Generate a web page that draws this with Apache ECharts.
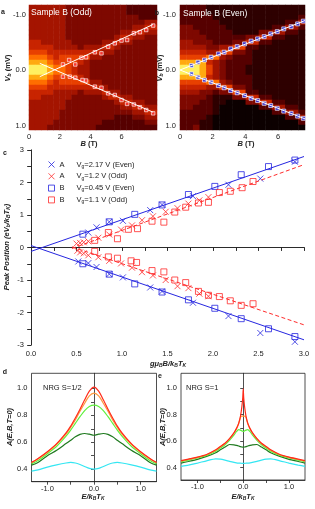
<!DOCTYPE html>
<html><head><meta charset="utf-8">
<script src="https://cdn.jsdelivr.net/npm/echarts@6/dist/echarts.min.js"></script>
<style>html,body{margin:0;padding:0;background:#fff}#c{width:315px;height:509px}</style>
</head><body><div id="c"></div>
<script>
// ---------- Panel a (Sample B, Odd) ----------
const aPtsUpB = [2.2,2.6,3.0,3.4,3.7,4.27,4.7,5.13,5.56,6.0,6.36,6.8,7.19,7.6,8.05];
const aPtsUpV = [-0.1,-0.18,-0.1,-0.22,-0.23,-0.32,-0.3,-0.42,-0.48,-0.53,-0.54,-0.66,-0.68,-0.72,-0.8];
const aPtsLoB = [2.2,2.65,3.0,3.47,3.7,4.27,4.7,5.13,5.56,6.0,6.36,6.8,7.19,7.6,8.05];
const aPtsLoV = [0.12,0.12,0.14,0.18,0.19,0.30,0.32,0.42,0.45,0.54,0.61,0.62,0.67,0.72,0.78];
const aFitB = [0.7, 8.05];
const aFitUpV = [0.12, -0.82];
const aFitLoV = [-0.12, 0.76];
// intensity levels 0..9, rows top (V=-1.17) to bottom (V=1.08), columns B=0..8.3
const aHeat = [
"444444333333333322222",
"444444333333333322222",
"444444333333333333222",
"444444333333333333344",
"444444333333333334455",
"444444333333333445544",
"444444333333334554433",
"554444433333445443333",
"555544443444554333333",
"666555555555443333333",
"777656666644333333333",
"888766665433333333333",
"999877654433333333333",
"999877654433333333333",
"888766665433333333333",
"777656666644333333333",
"666555555555433333333",
"555544443444544333333",
"554444433333455443333",
"444444333333334554433",
"444444333333333445544",
"444443333333333334455",
"444443333333332223344",
"444433333333222222233",
"444333333332222222222"];

// ---------- Panel b (Sample B, Even) ----------
const bPtsB = [0.7,1.1,1.5,1.9,2.35,2.7,3.1,3.5,3.95,4.35,4.75,5.15,5.55,5.95,6.35,6.8,7.2,7.55];
const bPtsUpV = [-0.08,-0.14,-0.18,-0.23,-0.29,-0.32,-0.38,-0.42,-0.47,-0.52,-0.56,-0.60,-0.65,-0.69,-0.74,-0.78,-0.83,-0.88];
const bPtsLoV = [0.07,0.13,0.18,0.22,0.28,0.32,0.37,0.41,0.46,0.51,0.55,0.60,0.64,0.69,0.74,0.78,0.83,0.87];
const bFitB = [0, 7.65];
const bFitUpV = [0, -0.89];
const bFitLoV = [0, 0.88];
const bHeat = [
"2222111111111111111",
"2222111111111111111",
"2222211111111111112",
"2222221111111111224",
"3322222111111122442",
"3332222211113344221",
"3333222222335522111",
"4433322233552211111",
"4444334466221111111",
"5555446633211111111",
"6666774322211111111",
"8888543222211111111",
"9998643222111111111",
"9998643222111111111",
"8888543222211111111",
"6666774322211111111",
"5555446633211111111",
"4443323366221111111",
"3333211133552211111",
"3332211000335522111",
"3322210000002244221",
"2222210000000022442",
"2222100000000000224",
"2221100000000000002",
"2231100000000000000"];

// ---------- Panel c ----------
const cA_even = [[0.63,0.46],[0.72,0.62],[0.86,0.79],[1.01,0.82],[1.31,1.15],[1.44,1.32],[1.78,1.58],[2.17,1.93],[2.52,2.12],[2.90,2.64],
 [0.52,-0.43],[0.63,-0.48],[0.72,-0.60],[0.86,-0.82],[1.01,-0.92],[1.31,-1.23],[1.44,-1.35],[1.78,-1.70],[2.17,-2.11],[2.52,-2.63],[2.90,-2.90]];
const cA_odd = [[0.50,0.12],[0.54,0.14],[0.58,0.16],[0.63,0.19],[0.74,0.30],[0.86,0.40],[0.99,0.55],[1.11,0.68],[1.22,0.84],[1.34,0.96],[1.48,1.10],[1.61,1.21],[1.73,1.35],[1.85,1.45],[1.95,1.55],
 [0.51,-0.10],[0.54,-0.15],[0.58,-0.18],[0.63,-0.24],[0.74,-0.30],[0.86,-0.41],[0.99,-0.49],[1.11,-0.62],[1.22,-0.76],[1.34,-0.86],[1.48,-1.0],[1.61,-1.19],[1.73,-1.25],[1.85,-1.42],[1.95,-1.50]];
const cB_even = [[0.57,0.41],[0.86,0.79],[1.14,1.02],[1.44,1.31],[1.73,1.63],[2.02,1.88],[2.31,2.24],[2.61,2.49],[2.90,2.69],
 [0.57,-0.50],[0.86,-0.82],[1.14,-1.12],[1.44,-1.37],[1.73,-1.61],[2.02,-1.87],[2.31,-2.19],[2.61,-2.50],[2.90,-2.74]];
const cB_odd = [[0.70,0.22],[0.85,0.46],[0.95,0.27],[1.07,0.56],[1.17,0.58],[1.33,0.81],[1.46,0.78],[1.58,1.09],[1.70,1.24],[1.84,1.37],[1.95,1.39],[2.07,1.69],[2.19,1.73],[2.32,1.84],[2.44,2.03],
 [0.70,-0.12],[0.85,-0.29],[0.95,-0.33],[1.10,-0.41],[1.16,-0.46],[1.33,-0.71],[1.46,-0.75],[1.58,-1.0],[1.70,-1.08],[1.84,-1.35],[1.95,-1.47],[2.07,-1.51],[2.19,-1.64],[2.31,-1.78],[2.44,-1.73]];
const cFitEvenUp = [[0,-0.12],[3,2.80]];
const cFitEvenLo = [[0,0.06],[3,-2.84]];
const cFitOddUp = [[0.45,-0.03],[3,2.55]];
const cFitOddLo = [[0.45,0.02],[3,-2.38]];
const legendKeys = ['A_even','A_odd','B_even','B_odd'];
const legendSample = ['A','A','B','B'];
const legendVg = ['2.17','1.2','0.45','1.1'];
const legendParity = ['Even','Odd','Even','Odd'];

// ---------- Panel d (NRG S=1/2) ----------
const dE = [-1.34,-1.2,-1.0,-0.8,-0.6,-0.5,-0.4,-0.3,-0.2,-0.1,0,0.1,0.2,0.3,0.4,0.5,0.6,0.8,1.0,1.2,1.34];
const dRed    = [0.45,0.48,0.53,0.59,0.67,0.72,0.78,0.845,0.915,0.98,1.01,0.98,0.915,0.845,0.78,0.72,0.67,0.59,0.53,0.48,0.45];
const dOrange = [0.45,0.475,0.525,0.585,0.66,0.71,0.765,0.83,0.89,0.945,0.965,0.945,0.89,0.83,0.765,0.71,0.66,0.585,0.525,0.475,0.45];
const dLight  = [0.44,0.465,0.515,0.57,0.645,0.69,0.74,0.79,0.835,0.865,0.875,0.865,0.835,0.79,0.74,0.69,0.645,0.57,0.515,0.465,0.44];
const dDark   = [0.43,0.45,0.50,0.54,0.59,0.615,0.64,0.658,0.665,0.66,0.652,0.66,0.665,0.658,0.64,0.615,0.59,0.54,0.50,0.45,0.43];
const dCyan   = [0.385,0.395,0.415,0.432,0.446,0.45,0.446,0.435,0.42,0.406,0.40,0.406,0.42,0.435,0.446,0.45,0.446,0.432,0.415,0.395,0.385];

// ---------- Panel e (NRG S=1) ----------
const eE = [-1.36,-1.2,-1.0,-0.8,-0.6,-0.5,-0.4,-0.3,-0.2,-0.15,-0.1,-0.06,-0.03,-0.01,0,0.01,0.03,0.06,0.1,0.15,0.2,0.3,0.4,0.5,0.6,0.8,1.0,1.2,1.35];
const eRed    = [0.453,0.465,0.48,0.50,0.535,0.56,0.585,0.62,0.665,0.695,0.735,0.79,0.86,0.93,0.995,0.93,0.86,0.79,0.735,0.695,0.665,0.62,0.585,0.56,0.535,0.50,0.48,0.465,0.453];
const eOrange = [0.45,0.462,0.478,0.498,0.532,0.557,0.582,0.617,0.662,0.692,0.732,0.78,0.79,0.79,0.79,0.79,0.79,0.78,0.732,0.692,0.662,0.617,0.582,0.557,0.532,0.498,0.478,0.462,0.45];
const eLight  = [0.445,0.457,0.473,0.493,0.525,0.548,0.573,0.607,0.648,0.672,0.688,0.684,0.678,0.675,0.674,0.675,0.678,0.684,0.688,0.672,0.648,0.607,0.573,0.548,0.525,0.493,0.473,0.457,0.445];
const eDark   = [0.435,0.447,0.463,0.485,0.513,0.535,0.556,0.575,0.573,0.569,0.564,0.559,0.556,0.555,0.555,0.555,0.556,0.559,0.564,0.569,0.573,0.575,0.556,0.535,0.513,0.485,0.463,0.447,0.435];
const eCyan   = [0.41,0.42,0.435,0.452,0.466,0.464,0.457,0.448,0.44,0.437,0.435,0.434,0.433,0.433,0.433,0.433,0.433,0.434,0.435,0.437,0.44,0.448,0.457,0.464,0.466,0.452,0.435,0.42,0.41];

// ---------- styles ----------
const heatPalette = ['#0c0000','#2e0000','#560000','#7e0800','#a41400','#c82400','#e84000','#ff6e00','#ffaa10','#fff060'];
const font = 'Liberation Sans, Arial, sans-serif';
const ink = '#222';
const blue = '#2626e0', red = '#ff2b2b';
const curveColors = ['#ff2a1a','#ff9a40','#5ef03c','#1f7a1f','#35e6f2'];
const lab = {fontFamily: font, fontSize: 7.5, color: ink};
const axLine = {show: true, lineStyle: {color: ink, width: 0.8}};
const xPath = 'path://M0,0L10,10M10,0L0,10';

function heatData(rows) {
  const out = [];
  rows.forEach((r, i) => { for (let j = 0; j < r.length; j++) out.push([j, i, Number(r[j])]); });
  return out;
}
function idx(n) { return Array.from({length: n}, (_, k) => k); }
function zip(xs, ys) { return xs.map((x, k) => [x, ys[k]]); }

const rich = {
  bi: {fontFamily: font, fontSize: 7.5, fontWeight: 'bold', fontStyle: 'italic', lineHeight: 9, color: ink},
  b: {fontFamily: font, fontSize: 7.5, fontWeight: 'bold', lineHeight: 9, color: ink},
  sb: {fontFamily: font, fontSize: 5, fontWeight: 'bold', fontStyle: 'italic', lineHeight: 5, verticalAlign: 'bottom', color: ink}
};
function T(x, y, text, o) {
  o = o || {};
  return {type: 'text', x: x, y: y, rotation: o.rot || 0, silent: true, z: 100,
    style: {text: text, fontFamily: font, fontSize: o.size || 7.5, fontWeight: o.weight || 'normal',
      fill: o.fill || ink, align: o.align || 'center', verticalAlign: 'middle', rich: o.rich}};
}

const chart = echarts.init(document.getElementById('c'), null, {renderer: 'canvas'});

const option = {
  animation: false,
  backgroundColor: '#fff',
  grid: [
    {left: 29, top: 5, width: 128, height: 125},
    {left: 180, top: 5, width: 125, height: 125},
    {left: 31, top: 150, width: 273, height: 195},
    {left: 31.5, top: 373.3, width: 125, height: 108.4, show: true, borderColor: ink, borderWidth: 0.8},
    {left: 181, top: 373.3, width: 124, height: 106.7, show: true, borderColor: ink, borderWidth: 0.8}
  ],
  visualMap: [{type: 'continuous', show: false, dimension: 2, min: 0, max: 9, seriesIndex: [0, 1], inRange: {color: heatPalette}}],
  xAxis: [
    {type: 'value', gridIndex: 0, min: 0, max: 8.3, axisLine: {show: false}, axisTick: {show: false}, splitLine: {show: false},
      axisLabel: Object.assign({}, lab, {margin: 3, customValues: [0, 2, 4, 6], formatter: v => String(v)})},
    {type: 'category', gridIndex: 0, data: idx(aHeat[0].length), show: false, boundaryGap: true},
    {type: 'value', gridIndex: 1, min: 0, max: 7.65, axisLine: {show: false}, axisTick: {show: false}, splitLine: {show: false},
      axisLabel: Object.assign({}, lab, {margin: 3, customValues: [0, 2, 4, 6], formatter: v => String(v)})},
    {type: 'category', gridIndex: 1, data: idx(bHeat[0].length), show: false, boundaryGap: true},
    {type: 'value', gridIndex: 2, min: 0, max: 3, interval: 0.5, axisLine: axLine, splitLine: {show: false},
      axisTick: {show: true, length: 3.5, lineStyle: {color: ink, width: 0.8}},
      minorTick: {show: true, splitNumber: 2, length: 3.5, lineStyle: {color: ink, width: 0.8}},
      axisLabel: Object.assign({}, lab, {margin: 5, formatter: v => v.toFixed(1)})},
    {type: 'value', gridIndex: 2, position: 'top', min: 0, max: 3, interval: 0.5, axisLine: axLine, splitLine: {show: false},
      axisTick: {show: true, inside: true, length: 3, lineStyle: {color: ink, width: 0.8}},
      minorTick: {show: true, splitNumber: 2, length: 3, lineStyle: {color: ink, width: 0.8}},
      axisLabel: {show: false}},
    {type: 'value', gridIndex: 3, min: -1.34, max: 1.34, axisLine: axLine, splitLine: {show: false},
      axisTick: {show: true, length: 3, customValues: [-1, -0.5, 0, 0.5, 1], lineStyle: {color: ink, width: 0.8}},
      axisLabel: Object.assign({}, lab, {margin: 3, customValues: [-1, 0, 1], formatter: v => v.toFixed(1)})},
    {type: 'value', gridIndex: 4, min: -1.36, max: 1.35, axisLine: axLine, splitLine: {show: false},
      axisTick: {show: true, length: 3, customValues: [-1, -0.5, 0, 0.5, 1], lineStyle: {color: ink, width: 0.8}},
      axisLabel: Object.assign({}, lab, {margin: 3, customValues: [-1, 0, 1], formatter: v => v.toFixed(1)})}
  ],
  yAxis: [
    {type: 'value', gridIndex: 0, min: -1.17, max: 1.08, inverse: true, axisLine: {show: false}, axisTick: {show: false}, splitLine: {show: false},
      axisLabel: Object.assign({}, lab, {margin: 3, customValues: [-1, 0, 1], formatter: v => v.toFixed(1)})},
    {type: 'category', gridIndex: 0, data: idx(aHeat.length), inverse: true, show: false, boundaryGap: true},
    {type: 'value', gridIndex: 1, min: -1.17, max: 1.08, inverse: true, axisLine: {show: false}, axisTick: {show: false}, splitLine: {show: false},
      axisLabel: Object.assign({}, lab, {margin: 4, customValues: [-1, 0, 1], formatter: v => v.toFixed(1)})},
    {type: 'category', gridIndex: 1, data: idx(bHeat.length), inverse: true, show: false, boundaryGap: true},
    {type: 'value', gridIndex: 2, min: -3, max: 3, interval: 1, axisLine: axLine, splitLine: {show: false},
      axisTick: {show: true, length: 4, lineStyle: {color: ink, width: 0.8}},
      minorTick: {show: true, splitNumber: 2, length: 4, lineStyle: {color: ink, width: 0.8}},
      axisLabel: Object.assign({}, lab, {margin: 7})},
    {type: 'value', gridIndex: 2, position: 'right', min: -3, max: 3, interval: 1, axisLine: axLine, splitLine: {show: false},
      axisTick: {show: true, inside: true, length: 3, lineStyle: {color: ink, width: 0.8}},
      minorTick: {show: true, splitNumber: 2, length: 3, lineStyle: {color: ink, width: 0.8}},
      axisLabel: {show: false}},
    {type: 'value', gridIndex: 3, min: 0.307, max: 1.112, axisLine: axLine, splitLine: {show: false},
      axisTick: {show: true, length: 3, customValues: [0.4, 0.5, 0.6, 0.7, 0.8, 0.9, 1.0], lineStyle: {color: ink, width: 0.8}},
      axisLabel: Object.assign({}, lab, {margin: 4, customValues: [0.4, 0.6, 0.8, 1.0], formatter: v => v.toFixed(1)})},
    {type: 'value', gridIndex: 4, min: 0.307, max: 1.113, axisLine: axLine, splitLine: {show: false},
      axisTick: {show: true, length: 3, customValues: [0.4, 0.5, 0.6, 0.7, 0.8, 0.9, 1.0], lineStyle: {color: ink, width: 0.8}},
      axisLabel: Object.assign({}, lab, {margin: 4, customValues: [0.4, 0.6, 0.8, 1.0], formatter: v => v.toFixed(1)})}
  ],
  legend: {
    orient: 'vertical', left: 43, top: 155.5, itemWidth: 6, itemHeight: 6, itemGap: 3.3, selectedMode: false,
    data: [
      {name: 'A_even', icon: xPath, itemStyle: {color: blue, borderColor: blue, borderWidth: 1}},
      {name: 'A_odd', icon: xPath, itemStyle: {color: red, borderColor: red, borderWidth: 1}},
      {name: 'B_even', icon: 'rect', itemStyle: {color: 'rgba(0,0,0,0)', borderColor: blue, borderWidth: 1}},
      {name: 'B_odd', icon: 'rect', itemStyle: {color: 'rgba(0,0,0,0)', borderColor: red, borderWidth: 1}}
    ],
    formatter: name => {
      const k = legendKeys.indexOf(name);
      return '{n|' + legendSample[k] + '}{t|V}{s|g}{t|=' + legendVg[k] + ' V (' + legendParity[k] + ')}';
    },
    textStyle: {fontFamily: font, fontSize: 7.5, color: ink, padding: [0, 0, 0, 0],
      rich: {
        n: {fontFamily: font, fontSize: 7.5, color: ink, width: 17, lineHeight: 9},
        t: {fontFamily: font, fontSize: 7.5, color: ink, lineHeight: 9},
        s: {fontFamily: font, fontSize: 5, color: ink, lineHeight: 5, verticalAlign: 'bottom'}
      }}
  },
  series: [
    {type: 'heatmap', xAxisIndex: 1, yAxisIndex: 1, data: heatData(aHeat), silent: true, progressive: 0, itemStyle: {borderWidth: 0}},
    {type: 'heatmap', xAxisIndex: 3, yAxisIndex: 3, data: heatData(bHeat), silent: true, progressive: 0, itemStyle: {borderWidth: 0}},
    // panel a fits & points
    {type: 'line', xAxisIndex: 0, yAxisIndex: 0, data: zip(aFitB, aFitUpV), showSymbol: false, silent: true, lineStyle: {color: '#fff', width: 1}},
    {type: 'line', xAxisIndex: 0, yAxisIndex: 0, data: zip(aFitB, aFitLoV), showSymbol: false, silent: true, lineStyle: {color: '#fff', width: 1}},
    {type: 'scatter', xAxisIndex: 0, yAxisIndex: 0, data: zip(aPtsUpB, aPtsUpV).concat(zip(aPtsLoB, aPtsLoV)), symbol: 'rect', symbolSize: 3.5,
      silent: true, itemStyle: {color: '#ff3a3a', borderColor: '#ffffff', borderWidth: 0.8}},
    // panel b fits & points
    {type: 'line', xAxisIndex: 2, yAxisIndex: 2, data: zip(bFitB, bFitUpV), showSymbol: false, silent: true, lineStyle: {color: '#fff', width: 1}},
    {type: 'line', xAxisIndex: 2, yAxisIndex: 2, data: zip(bFitB, bFitLoV), showSymbol: false, silent: true, lineStyle: {color: '#fff', width: 1}},
    {type: 'scatter', xAxisIndex: 2, yAxisIndex: 2, data: zip(bPtsB, bPtsUpV).concat(zip(bPtsB, bPtsLoV)), symbol: 'rect', symbolSize: 4,
      silent: true, itemStyle: {color: '#2a3cff', borderColor: '#ffffff', borderWidth: 0.8}},
    // panel c fits
    {type: 'line', xAxisIndex: 4, yAxisIndex: 4, data: cFitEvenUp, showSymbol: false, silent: true, lineStyle: {color: blue, width: 1}},
    {type: 'line', xAxisIndex: 4, yAxisIndex: 4, data: cFitEvenLo, showSymbol: false, silent: true, lineStyle: {color: blue, width: 1}},
    {type: 'line', xAxisIndex: 4, yAxisIndex: 4, data: cFitOddUp, showSymbol: false, silent: true, lineStyle: {color: red, width: 1, type: [4, 2.5]}},
    {type: 'line', xAxisIndex: 4, yAxisIndex: 4, data: cFitOddLo, showSymbol: false, silent: true, lineStyle: {color: red, width: 1, type: [4, 2.5]}},
    // panel c points
    {type: 'scatter', name: 'A_even', xAxisIndex: 4, yAxisIndex: 4, data: cA_even, symbol: xPath, symbolSize: 6, silent: true,
      itemStyle: {color: blue, borderColor: blue, borderWidth: 1}},
    {type: 'scatter', name: 'A_odd', xAxisIndex: 4, yAxisIndex: 4, data: cA_odd, symbol: xPath, symbolSize: 6, silent: true,
      itemStyle: {color: red, borderColor: red, borderWidth: 1}},
    {type: 'scatter', name: 'B_even', xAxisIndex: 4, yAxisIndex: 4, data: cB_even, symbol: 'rect', symbolSize: 6, silent: true,
      itemStyle: {color: 'rgba(0,0,0,0)', borderColor: blue, borderWidth: 1}},
    {type: 'scatter', name: 'B_odd', xAxisIndex: 4, yAxisIndex: 4, data: cB_odd, symbol: 'rect', symbolSize: 6, silent: true,
      itemStyle: {color: 'rgba(0,0,0,0)', borderColor: red, borderWidth: 1}}
  ].concat(
    [dCyan, dDark, dLight, dOrange, dRed].map((ys, k) => ({type: 'line', xAxisIndex: 6, yAxisIndex: 6, data: zip(dE, ys), showSymbol: false, silent: true,
      smooth: 0.3, lineStyle: {color: curveColors[4 - k], width: 1.2}})),
    [eCyan, eDark, eLight, eOrange, eRed].map((ys, k) => ({type: 'line', xAxisIndex: 7, yAxisIndex: 7, data: zip(eE, ys), showSymbol: false, silent: true,
      smooth: 0.2, lineStyle: {color: curveColors[4 - k], width: 1.2}}))
  ),
  graphic: [
    T(3, 12, 'a', {weight: 'bold', size: 7}),
    T(157, 13, 'b', {weight: 'bold', size: 7}),
    T(5, 153, 'c', {weight: 'bold', size: 7}),
    T(5, 372, 'd', {weight: 'bold', size: 7}),
    T(160, 376, 'e', {weight: 'bold', size: 7}),
    T(31, 13, 'Sample B (Odd)', {align: 'left', size: 8.5, fill: '#ffffff'}),
    T(183, 14, 'Sample B (Even)', {align: 'left', size: 8.5, fill: '#ffffff'}),
    T(43, 388, 'NRG S=1/2', {align: 'left', size: 7.5}),
    T(186, 388, 'NRG S=1', {align: 'left', size: 7.5}),
    T(89, 144, '{bi|B}{b| (T)}', {rich: rich}),
    T(246, 144, '{bi|B}{b| (T)}', {rich: rich}),
    T(8, 68, '{bi|V}{sb|b}{b| (mV)}', {rich: rich, rot: Math.PI / 2}),
    T(160, 68, '{bi|V}{sb|b}{b| (mV)}', {rich: rich, rot: Math.PI / 2}),
    T(168, 364, '{bi|gμ}{sb|B}{bi|B/k}{sb|B}{bi|T}{sb|K}', {rich: rich}),
    T(7, 247, '{bi|Peak Position (eV}{sb|b}{bi|/k}{sb|B}{bi|T}{sb|K}{bi|)}', {rich: rich, rot: Math.PI / 2}),
    T(93, 497, '{bi|E/k}{sb|B}{bi|T}{sb|K}', {rich: rich}),
    T(243, 497, '{bi|E/k}{sb|B}{bi|T}{sb|K}', {rich: rich}),
    T(10, 427, '{bi|A(E,B,T=0)}', {rich: rich, rot: Math.PI / 2}),
    T(163, 427, '{bi|A(E,B,T=0)}', {rich: rich, rot: Math.PI / 2})
  ]
};
chart.setOption(option);
</script>
</body></html>
